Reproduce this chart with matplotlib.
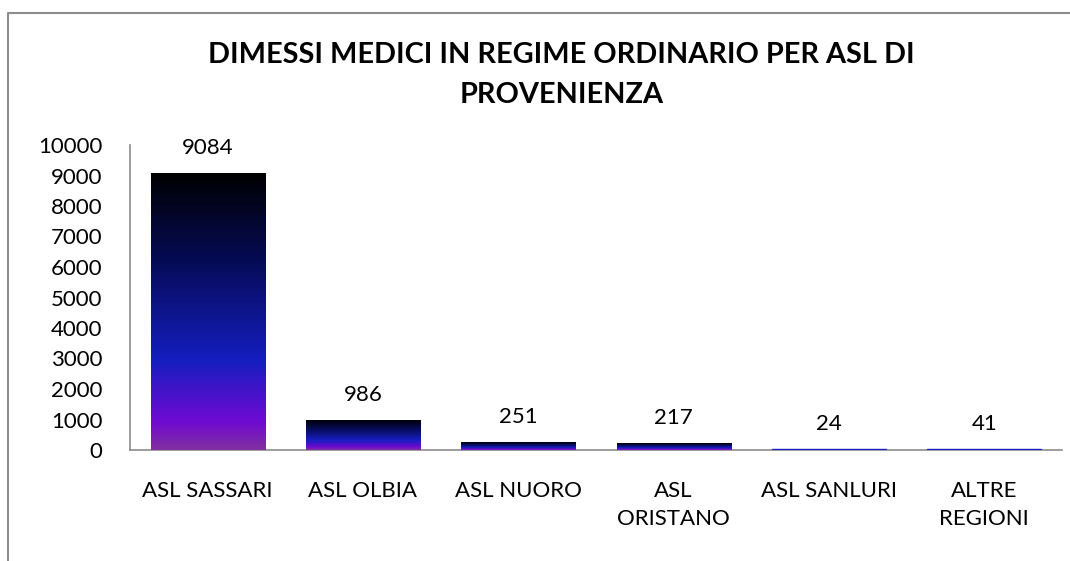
import numpy as np
import matplotlib.pyplot as plt
from matplotlib.colors import LinearSegmentedColormap
from matplotlib.lines import Line2D

categories = ['ASL SASSARI', 'ASL OLBIA', 'ASL NUORO', 'ASL\nORISTANO', 'ASL SANLURI', 'ALTRE\nREGIONI']
values = [9084, 986, 251, 217, 24, 41]
yticks = [0, 1000, 2000, 3000, 4000, 5000, 6000, 7000, 8000, 9000, 10000]
title = 'DIMESSI MEDICI IN REGIME ORDINARIO PER ASL DI\nPROVENIENZA'

plt.rcParams['font.family'] = ['Lato', 'DejaVu Sans']

# gradient top (black) -> blue -> purple at the bottom
grad = LinearSegmentedColormap.from_list('bar', [
    (0.0, '#000000'),
    (0.3, '#050a50'),
    (0.68, '#151ec0'),
    (0.9, '#700ad2'),
    (1.0, '#8030a0'),
])

fig = plt.figure(figsize=(10.7, 5.61), dpi=100)
ax = fig.add_axes([130 / 1070, 1 - 450 / 561, (1062 - 130) / 1070, (450 - 145) / 561])

x = np.arange(len(categories))
bars = ax.bar(x, values, width=0.735, color='#1a20c8', edgecolor='none', zorder=3)
g = np.linspace(0, 1, 256).reshape(-1, 1)
for b, v in zip(bars, values):
    if v < 100:
        # too thin for a gradient, leave the plain blue fill
        b.set_edgecolor('#1a20c8')
        b.set_linewidth(1.0)
        continue
    x0, y0 = b.get_x(), b.get_y()
    w, h = b.get_width(), b.get_height()
    im = ax.imshow(g, cmap=grad, aspect='auto', extent=[x0, x0 + w, y0, y0 + h],
                   origin='upper', zorder=3)
    im.set_clip_path(b)

for xi, v in zip(x, values):
    ax.annotate(str(v), (xi, v), xytext=(0, 18), textcoords='offset points',
                ha='center', va='center', fontsize=16)

ax.set_xlim(-0.5, len(categories) - 0.5)
ax.set_ylim(0, 10000)
ax.set_yticks(yticks)
ax.set_xticks(x)
ax.set_xticklabels(categories, linespacing=1.55)
ax.tick_params(axis='both', length=0, labelsize=16)
ax.tick_params(axis='x', pad=22)
ax.tick_params(axis='y', pad=20)
for s in ['top', 'right']:
    ax.spines[s].set_visible(False)
for s in ['left', 'bottom']:
    ax.spines[s].set_color('#8c8c8c')
    ax.spines[s].set_linewidth(1.2)
    ax.spines[s].set_zorder(1)

fig.text(0.525, 1 - 75 / 561, title, ha='center', va='center', fontsize=20.8,
         fontweight='bold', linespacing=1.65)

# chart border (cropped on the right and bottom)
fig.add_artist(Line2D([8 / 1070, 8 / 1070, 1.0], [0.0, 1 - 13 / 561, 1 - 13 / 561],
                      transform=fig.transFigure, color='#8c8c8c', lw=1.5))

fig.savefig('out.png', dpi=100)
